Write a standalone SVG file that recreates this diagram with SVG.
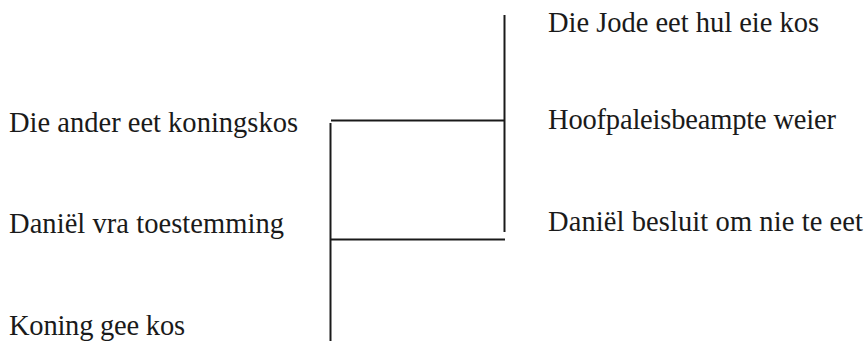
<svg xmlns="http://www.w3.org/2000/svg" width="866" height="341" viewBox="0 0 866 341">
<style>
text{font-family:"Liberation Serif","Times New Roman",serif;font-size:28.5px;fill:#1a1a1a}
.c{stroke:#1a1a1a;stroke-width:2;fill:none}
</style>
<rect width="866" height="341" fill="#fff"/>
<g id="n1"><text x="9" y="132" textLength="289">Die ander eet koningskos</text></g>
<g id="n2"><text x="9" y="233" textLength="275">Daniël vra toestemming</text></g>
<g id="n3"><text x="9" y="335" textLength="176">Koning gee kos</text></g>
<g id="n4"><text x="548" y="32" textLength="271">Die Jode eet hul eie kos</text></g>
<g id="n5"><text x="548" y="129" textLength="288">Hoofpaleisbeampte weier</text></g>
<g id="n6"><text x="548" y="231" textLength="315">Daniël besluit om nie te eet</text></g>
<g id="connectors">
<path class="c" d="M331 120.5H505"/>
<path class="c" d="M330.5 123V341"/>
<path class="c" d="M331 239.5H505"/>
<path class="c" d="M504.5 15V232"/>
</g>
</svg>
